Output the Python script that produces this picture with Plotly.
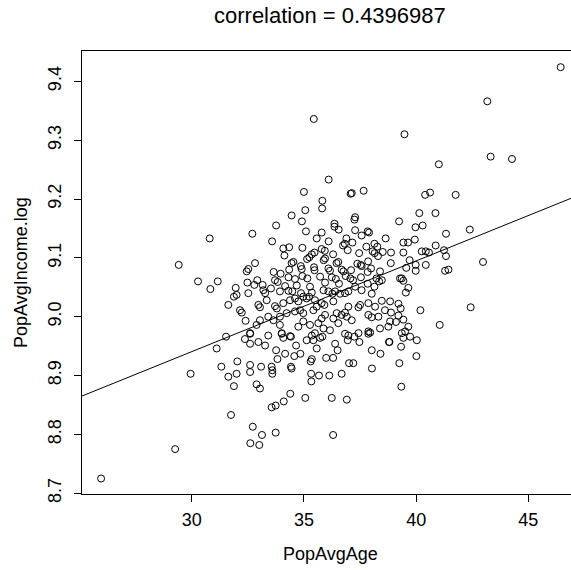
import plotly.graph_objects as go

# ---- data ----
pop_avg_age = [
    # outlying points
    25.96, 29.26, 29.95, 30.80, 29.42, 30.28, 30.83, 35.44, 36.10, 46.44, 43.17, 39.48, 43.32, 44.27, 41.01,
    # lower right cluster edge
    38.81, 39.33, 40.03, 39.73, 39.43, 40.01, 39.25, 39.34,
    # right side
    40.40, 40.62, 41.76, 40.14, 40.86, 39.24, 39.97, 40.29, 41.33, 42.39,
    39.94, 39.43, 39.64, 40.87, 41.24, 39.43, 40.25, 40.43, 40.57, 41.33,
    39.71, 39.56, 39.98, 39.98, 40.43, 42.98, 41.29, 41.44, 39.28, 39.43,
    39.36, 39.65, 39.54, 39.21, 39.31, 39.21, 39.43, 39.10, 40.19, 42.43,
    39.65, 41.05, 39.36, 39.51,
    # dense centre
    35.00, 37.08, 37.13, 37.66, 35.82, 35.81, 35.06, 34.45, 37.28, 37.25,
    34.91, 33.76, 36.36, 36.36, 36.55, 32.70, 35.09, 35.79, 37.28, 37.84,
    37.90, 33.58, 35.57, 36.10, 36.89, 37.16, 36.74, 36.82, 37.57, 38.64,
    34.34, 34.08, 34.93, 35.79, 35.93, 36.95, 37.78, 38.14, 38.27, 34.13,
    35.47, 35.35, 36.30, 37.46, 38.06, 38.15, 38.51, 38.88, 34.53, 34.45,
    35.14, 35.24, 35.88, 35.94, 36.45, 36.53, 37.38, 37.53, 37.57, 37.86,
    38.30, 38.87, 32.82, 33.65, 32.52, 32.45, 33.96, 34.34, 34.86, 34.90,
    35.45, 35.47, 36.09, 36.16, 36.68, 36.76, 37.10, 37.99, 37.84, 38.39,
    31.16, 32.48, 32.92, 33.71, 33.83, 34.31, 34.60, 34.93, 35.15, 35.72,
    36.24, 36.42, 36.86, 37.07, 37.19, 37.54, 38.23, 38.35, 38.47, 31.96,
    32.79, 33.16, 33.53, 34.16, 34.68, 35.27, 35.94, 36.56, 37.28, 37.84,
    38.14, 31.63, 31.88, 32.00, 32.52, 33.19, 33.27, 33.93, 34.31, 34.48,
    34.87, 35.35, 35.87, 36.09, 36.27, 36.39, 36.61, 36.83, 36.98, 37.57,
    38.02, 38.47, 38.84, 32.15, 32.23, 32.40, 32.97, 33.04, 33.34, 33.71,
    33.79, 34.08, 34.38, 34.60, 34.75, 34.97, 35.12, 35.23, 35.49, 35.79,
    35.91, 36.31, 36.98, 37.43, 37.50, 37.87, 38.17, 38.61, 38.88, 33.04,
    33.41, 33.64, 33.93, 34.23, 34.60, 34.83, 34.97, 35.42, 35.57, 35.94,
    36.31, 36.46, 36.68, 36.91, 36.83, 37.13, 37.87, 38.02, 38.32, 38.84,
    32.60, 33.93, 34.01, 34.75, 34.97, 35.27, 35.64, 35.79, 35.87, 36.16,
    36.53, 37.43, 37.87, 37.95, 38.39, 38.76, 32.89, 35.49,
    # lower part
    31.53, 31.11, 32.37, 32.60, 32.60, 32.97, 33.27, 33.41, 34.01, 34.08,
    34.38, 34.42, 33.76, 34.65, 35.12, 35.35, 35.42, 35.72, 35.82, 35.57,
    36.39, 36.50, 36.83, 36.98, 37.25, 36.95, 37.47, 37.87, 38.79, 38.02,
    38.41, 31.32, 32.03, 31.63, 32.00, 31.88, 32.60, 32.60, 33.09, 33.56,
    33.59, 33.59, 33.82, 34.16, 34.57, 34.84, 34.42, 34.45, 35.35, 35.30,
    35.99, 36.30, 35.32, 35.33, 35.67, 36.13, 36.68, 37.01, 37.20, 38.03,
    32.89, 33.04, 34.39, 35.06, 36.24, 36.91, 34.10, 33.74, 33.56, 31.75,
    32.72, 33.13, 33.74, 32.61, 33.01, 36.30,
]

pop_avg_income_log = [
    8.725, 8.775, 8.903, 9.133, 9.088, 9.060, 9.047, 9.336, 9.233, 9.424, 9.366, 9.310, 9.272, 9.268, 9.259,
    8.957, 8.949, 8.960, 8.966, 8.964, 8.933, 8.921, 8.881,
    9.207, 9.211, 9.207, 9.176, 9.176, 9.162, 9.152, 9.155, 9.141, 9.148,
    9.131, 9.126, 9.126, 9.121, 9.113, 9.109, 9.111, 9.111, 9.109, 9.103,
    9.096, 9.083, 9.088, 9.078, 9.088, 9.093, 9.078, 9.080, 9.065, 9.061,
    9.065, 9.049, 9.041, 9.022, 9.014, 9.002, 8.995, 8.991, 9.011, 9.016,
    8.983, 8.986, 8.972, 8.975,
    9.212, 9.209, 9.210, 9.214, 9.197, 9.184, 9.181, 9.172, 9.169, 9.165,
    9.162, 9.155, 9.158, 9.153, 9.148, 9.141, 9.145, 9.143, 9.147, 9.145,
    9.143, 9.128, 9.133, 9.128, 9.133, 9.126, 9.121, 9.124, 9.138, 9.133,
    9.118, 9.116, 9.117, 9.115, 9.112, 9.113, 9.119, 9.124, 9.119, 9.104,
    9.109, 9.106, 9.106, 9.108, 9.111, 9.108, 9.110, 9.109, 9.093, 9.091,
    9.098, 9.101, 9.096, 9.099, 9.091, 9.093, 9.090, 9.088, 9.086, 9.094,
    9.103, 9.091, 9.091, 9.076, 9.081, 9.077, 9.073, 9.080, 9.086, 9.081,
    9.084, 9.079, 9.082, 9.078, 9.080, 9.077, 9.079, 9.082, 9.076, 9.077,
    9.060, 9.058, 9.062, 9.062, 9.059, 9.067, 9.064, 9.069, 9.065, 9.068,
    9.067, 9.064, 9.069, 9.065, 9.062, 9.067, 9.065, 9.060, 9.062, 9.049,
    9.054, 9.054, 9.048, 9.052, 9.053, 9.051, 9.058, 9.056, 9.051, 9.056,
    9.051, 9.020, 9.034, 9.037, 9.040, 9.045, 9.040, 9.043, 9.044, 9.043,
    9.040, 9.041, 9.045, 9.043, 9.039, 9.043, 9.039, 9.040, 9.043, 9.045,
    9.039, 9.027, 9.026, 9.011, 9.007, 8.993, 9.020, 9.016, 9.028, 9.018,
    9.014, 9.023, 9.028, 9.031, 9.026, 9.034, 9.031, 9.034, 9.028, 9.023,
    9.020, 9.026, 9.017, 9.016, 9.020, 9.023, 9.017, 9.011, 9.007, 8.994,
    9.000, 8.994, 9.000, 9.006, 9.009, 9.011, 9.006, 9.011, 9.017, 9.003,
    8.997, 9.006, 9.003, 9.000, 9.007, 8.994, 9.003, 8.999, 9.000, 8.992,
    8.972, 8.986, 8.972, 8.983, 8.992, 8.986, 8.989, 8.997, 8.980, 8.977,
    8.989, 8.972, 8.975, 8.973, 8.980, 8.983, 8.986, 8.972,
    8.966, 8.946, 8.962, 8.954, 8.971, 8.957, 8.951, 8.968, 8.971, 8.964,
    8.967, 8.966, 8.943, 8.951, 8.960, 8.968, 8.960, 8.964, 8.966, 8.946,
    8.954, 8.943, 8.971, 8.968, 8.966, 8.960, 8.957, 8.971, 8.957, 8.943,
    8.937, 8.915, 8.924, 8.898, 8.903, 8.882, 8.918, 8.906, 8.915, 8.915,
    8.909, 8.903, 8.928, 8.937, 8.933, 8.937, 8.915, 8.912, 8.928, 8.924,
    8.930, 8.930, 8.903, 8.890, 8.900, 8.900, 8.903, 8.921, 8.921, 8.912,
    8.885, 8.878, 8.869, 8.862, 8.862, 8.859, 8.856, 8.849, 8.846, 8.833,
    8.813, 8.799, 8.803, 8.785, 8.782, 8.799,
]

# fitted regression line
lm_intercept = 8.478
lm_slope = 0.01542
correlation_text = "correlation = 0.4396987"

x_ticks = [30, 35, 40, 45]
y_ticks = [8.7, 8.8, 8.9, 9.0, 9.1, 9.2, 9.3, 9.4]
y_tick_labels = ["8.7", "8.8", "8.9", "9.0", "9.1", "9.2", "9.3", "9.4"]

x_range = [25.11, 46.90]
y_range = [8.6987, 9.4515]

FONT = "Liberation Sans, Arial, Helvetica, sans-serif"

fig = go.Figure()
fig.add_trace(go.Scatter(
    x=pop_avg_age, y=pop_avg_income_log, mode="markers",
    marker=dict(symbol="circle-open", size=7, color="black",
                line=dict(width=1, color="black")),
    hoverinfo="skip", cliponaxis=True,
))
fig.add_trace(go.Scatter(
    x=x_range, y=[lm_intercept + lm_slope * v for v in x_range],
    mode="lines", line=dict(color="black", width=1), hoverinfo="skip",
))

fig.update_layout(
    width=571, height=570,
    margin=dict(l=82, r=0, t=51, b=76),
    plot_bgcolor="white", paper_bgcolor="white",
    showlegend=False,
    font=dict(family=FONT, size=18, color="black"),
    annotations=[
        dict(text=correlation_text, xref="paper", yref="paper",
             x=0.5072, y=1.0806, xanchor="center", yanchor="middle",
             showarrow=False, font=dict(size=22)),
        dict(text="PopAvgAge", xref="paper", yref="paper",
             x=0.5072, y=-0.1354, xanchor="center", yanchor="middle",
             showarrow=False, font=dict(size=18)),
        dict(text="PopAvgIncome.log", xref="paper", yref="paper",
             x=-0.1258, y=0.5, xanchor="center", yanchor="middle",
             textangle=-90, showarrow=False, font=dict(size=18)),
    ],
)
fig.update_xaxes(
    range=x_range, tickvals=x_ticks, ticks="outside", ticklen=7,
    tickwidth=1, tickcolor="black", showline=True, linecolor="black",
    linewidth=1, mirror=True, showgrid=False, zeroline=False,
    tickfont=dict(size=18), ticklabelstandoff=2,
)
fig.update_yaxes(
    range=y_range, tickvals=y_ticks, ticktext=y_tick_labels,
    tickangle=-90, ticks="outside", ticklen=7, tickwidth=1,
    tickcolor="black", showline=True, linecolor="black", linewidth=1,
    mirror=False, showgrid=False, zeroline=False, tickfont=dict(size=18),
    ticklabelstandoff=6,
)

fig.write_html("out.html")
